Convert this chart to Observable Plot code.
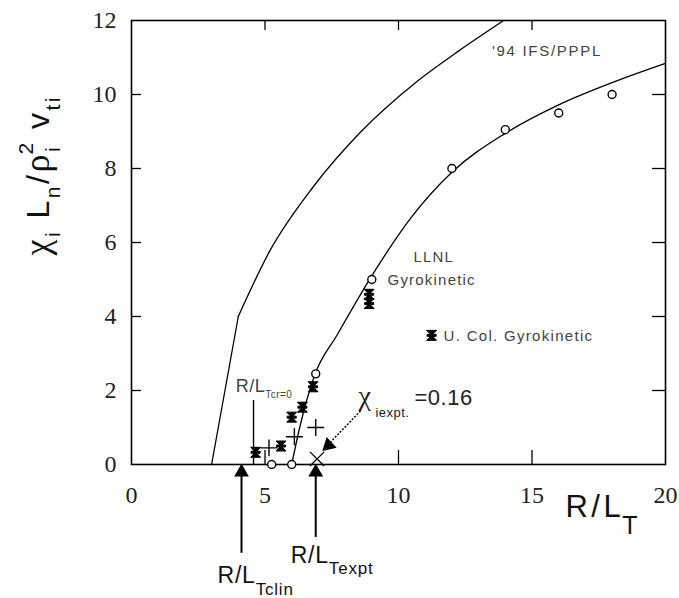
<!DOCTYPE html>
<html><head><meta charset="utf-8">
<script src="https://cdn.jsdelivr.net/npm/d3@7"></script>
<script src="https://cdn.jsdelivr.net/npm/@observablehq/plot@0.6"></script>
<style>body{margin:0;background:#fff}</style>
</head><body><div id="chart"></div>
<script>
// ---------- data ----------
const xTicks = [0, 5, 10, 15, 20];
const yTicks = [0, 2, 4, 6, 8, 10, 12];
const xInner = [5, 10, 15];
const yInner = [2, 4, 6, 8, 10];

// '94 IFS/PPPL model curve (linear rise to the knee, then smooth)
const ifsX = [3, 4, 5.2, 6.8, 8.6, 10.6, 12.3, 13.9];
const ifsY = [0, 4, 5.8, 7.5, 9.0, 10.3, 11.2, 11.98];
// LLNL gyrokinetic fit curve
const llnlX = [6.0, 6.3, 6.85, 7.7, 9.0, 10.5, 12.0, 14.0, 16.0, 18.0, 20];
const llnlY = [0, 1.0, 2.4, 3.5, 5.1, 6.7, 7.9, 8.95, 9.72, 10.32, 10.84];
// LLNL gyrokinetic points (open circles)
const circX = [5.25, 6.0, 6.9, 9.0, 12, 14, 16, 18];
const circY = [0, 0, 2.45, 5.0, 8.0, 9.05, 9.5, 10.0];
// U. Col. gyrokinetic points (filled stars)
const starX = [4.65, 5.6, 6.0, 6.4, 6.8, 8.9, 8.9];
const starY = [0.33, 0.5, 1.28, 1.55, 2.1, 4.6, 4.35];
// plus markers
const plusX = [5.15, 6.1, 6.9];
const plusY = [0.45, 0.75, 1.0];
// experimental point
const exptX = [6.95];
const exptY = [0.15];

// ---------- annotations ----------
const W = 679, H = 598;
const M = {left: 131, right: 14, top: 20, bottom: 134};
const frameW = W - M.left - M.right, frameH = H - M.top - M.bottom;

const sans = "'Liberation Sans', Arial, Helvetica, sans-serif";
const serif = "'Liberation Serif', 'Times New Roman', serif";

const plainNotes = [
  {x: 13.5, y: 11.03, text: "'94 IFS/PPPL", size: 15, ls: 1.7},
  {x: 10.56, y: 5.46, text: "LLNL", size: 15, ls: 1.2},
  {x: 9.59, y: 4.84, text: "Gyrokinetic", size: 15, ls: 1.2},
  {x: 11.69, y: 3.35, text: "U. Col. Gyrokinetic", size: 15, ls: 1.3}
];
const legendStar = [{x: 11.24, y: 3.49}];

const richNotes = [
  {x: 3.9, y: 1.95, base: 18, fill: "#444", ls: 0.5,
   segs: [{t: "R/L"}, {t: "Tcr=0", sub: 0.3, size: 10}]},
  {x: 8.5, y: 1.62, base: 22, fill: "#222", ls: 0.5,
   segs: [{t: "χ", font: serif, size: 28}, {t: "iexpt.", sub: 0.55, size: 13, dx: 4}, {t: "=0.16", dx: 5}]},
  {x: 5.96, y: -2.65, base: 23, fill: "#111", ls: 0.8,
   segs: [{t: "R/L"}, {t: "Texpt", sub: 0.5, size: 17}]},
  {x: 3.22, y: -3.19, base: 23, fill: "#111", ls: 0.8,
   segs: [{t: "R/L"}, {t: "Tclin", sub: 0.55, size: 17}]},
  {x: 16.25, y: -1.43, base: 31, fill: "#111", ls: 3.5,
   segs: [{t: "R/L"}, {t: "T", sub: 0.55, size: 25, dx: -2}]}
];
const yLabel = {base: 32, fill: "#111", ls: 2.5,
  segs: [{t: "χ", font: serif, size: 36}, {t: "i", sub: 0.35, size: 21}, {t: " L"}, {t: "n", sub: 0.35, size: 21},
         {t: "/"}, {t: "ρ", font: serif, size: 36}, {t: "i", sub: 0.35, size: 21}, {t: "2", sup: 0.5, size: 21, back: true},
         {t: " v"}, {t: "ti", sub: 0.35, size: 21}]};

const upArrows = [{x: 4.12, y1: -2.4, y2: -0.1}, {x: 6.9, y1: -1.97, y2: -0.1}];
const crLine = [{x: 4.57, y1: 0, y2: 1.73}];
const chiArrow = [{x1: 8.58, y1: 1.45, x2: 7.45, y2: 0.6}];
const chiHead = [{x: 7.38, y: 0.52}];

const plain = d => d.segs.map(s => s.t).join("");

// hourglass "star" symbol for the U. Col. points
const hourglass = {
  draw(ctx, size) {
    const r = Math.sqrt(size / Math.PI);
    ctx.moveTo(-r, -r); ctx.lineTo(r, -r); ctx.lineTo(-r, r); ctx.lineTo(r, r); ctx.closePath();
    ctx.moveTo(-r * 0.9, -r * 0.2); ctx.lineTo(r * 0.9, -r * 0.2); ctx.lineTo(r * 0.9, r * 0.2); ctx.lineTo(-r * 0.9, r * 0.2); ctx.closePath();
  }
};

const pts = (X, Y) => X.map((x, i) => ({x, y: Y[i]}));
const ifs = pts(ifsX, ifsY);

const chart = Plot.plot({
  width: W, height: H,
  marginLeft: M.left, marginRight: M.right, marginTop: M.top, marginBottom: M.bottom,
  x: {domain: [0, 20], axis: null},
  y: {domain: [0, 12], axis: null},
  style: {background: "#fff", overflow: "visible"},
  marks: [
    // inward ticks
    Plot.ruleY(yInner, {y: d => d, insetRight: frameW - 10, stroke: "#000", strokeWidth: 1.3}),
    Plot.ruleY(yInner, {y: d => d, insetLeft: frameW - 13, stroke: "#000", strokeWidth: 1.3}),
    Plot.ruleX(xInner, {x: d => d, insetTop: frameH - 14, stroke: "#000", strokeWidth: 1.3}),
    Plot.ruleX(xInner, {x: d => d, insetBottom: frameH - 10, stroke: "#000", strokeWidth: 1.3}),
    Plot.frame({stroke: "#000", strokeWidth: 1.6}),
    // tick labels
    Plot.text(yTicks, {y: d => d, text: d => String(d), frameAnchor: "left", textAnchor: "end", dx: -15,
      fontFamily: serif, fontSize: 24, fill: "#222"}),
    Plot.text(xTicks, {x: d => d, text: d => String(d), frameAnchor: "bottom", lineAnchor: "top", dy: 21,
      fontFamily: serif, fontSize: 24, fill: "#222"}),
    // curves
    Plot.line(ifs.slice(0, 2), {x: "x", y: "y", stroke: "#000", strokeWidth: 1.3}),
    Plot.line(ifs.slice(1), {x: "x", y: "y", stroke: "#000", strokeWidth: 1.3, curve: "monotone-x"}),
    Plot.line(pts(llnlX, llnlY), {x: "x", y: "y", stroke: "#000", strokeWidth: 1.3, curve: "monotone-x"}),
    // annotation lines
    Plot.ruleX(crLine, {x: "x", y1: "y1", y2: "y2", stroke: "#000", strokeWidth: 1.4}),
    Plot.ruleX(upArrows, {x: "x", y1: "y1", y2: "y2", stroke: "#000", strokeWidth: 2}),
    Plot.dot(upArrows, {x: "x", y: "y2", symbol: "triangle", r: 4.5, fill: "#000", stroke: "#000", dy: 4}),
    Plot.link(chiArrow, {x1: "x1", y1: "y1", x2: "x2", y2: "y2", stroke: "#000", strokeWidth: 1.4, strokeDasharray: "2,1.5"}),
    Plot.dot(chiHead, {x: "x", y: "y", symbol: "triangle", r: 4.5, fill: "#000", stroke: "#000", rotate: 227}),
    // data points
    Plot.dot(pts(circX, circY), {x: "x", y: "y", r: 4, fill: "#fff", stroke: "#000", strokeWidth: 1.4}),
    Plot.dot(pts(plusX, plusY), {x: "x", y: "y", symbol: "plus", r: 5.5, stroke: "#000", strokeWidth: 1.4}),
    Plot.dot(pts(starX, starY), {x: "x", y: "y", symbol: hourglass, r: 5, fill: "#000", stroke: "#000", strokeWidth: 1}),
    Plot.dot(pts(exptX, exptY), {x: "x", y: "y", symbol: "times", r: 6.5, stroke: "#000", strokeWidth: 1.3}),
    Plot.dot(legendStar, {x: "x", y: "y", symbol: hourglass, r: 5, fill: "#000", stroke: "#000", strokeWidth: 1}),
    // texts
    Plot.text(plainNotes, {x: "x", y: "y", text: "text", textAnchor: "start", lineAnchor: "bottom",
      fontFamily: sans, fontSize: d => d.size, fill: "#444"}),
    Plot.text(richNotes, {x: "x", y: "y", text: plain, textAnchor: "start", lineAnchor: "bottom",
      fontFamily: sans, fontSize: d => d.base, fill: d => d.fill}),
    Plot.text([yLabel], {text: plain, frameAnchor: "left", rotate: -90, textAnchor: "start", lineAnchor: "bottom",
      dx: -83, dy: 13, fontFamily: sans, fontSize: 32, fill: "#111"})
  ]
});

document.getElementById("chart").appendChild(chart);

// ---------- rich text (sub/superscripts) ----------
const NS = "http://www.w3.org/2000/svg";
function richify(el, spec) {
  el.textContent = "";
  if (spec.ls) el.setAttribute("letter-spacing", spec.ls);
  let shift = 0, prev = null;
  for (const s of spec.segs) {
    const ts = document.createElementNS(NS, "tspan");
    ts.textContent = s.t;
    const size = s.size ?? spec.base;
    ts.setAttribute("font-size", size);
    if (s.font) ts.setAttribute("font-family", s.font);
    const target = s.sub ? s.sub * spec.base : s.sup ? -s.sup * spec.base : 0;
    if (target !== shift) { ts.setAttribute("dy", target - shift); shift = target; }
    let dx = s.dx || 0;
    if (s.back && prev) dx -= prev.getComputedTextLength() + (spec.ls || 0);
    if (dx) ts.setAttribute("dx", dx);
    el.appendChild(ts);
    prev = ts;
  }
}
const richMap = new Map([...richNotes, yLabel].map(d => [plain(d), d]));
const lsMap = new Map(plainNotes.map(d => [d.text, d.ls]));
for (const el of chart.querySelectorAll("text")) {
  const key = el.textContent;
  if (richMap.has(key)) richify(el, richMap.get(key));
  else if (lsMap.has(key)) el.setAttribute("letter-spacing", lsMap.get(key));
}
</script>
</body></html>
